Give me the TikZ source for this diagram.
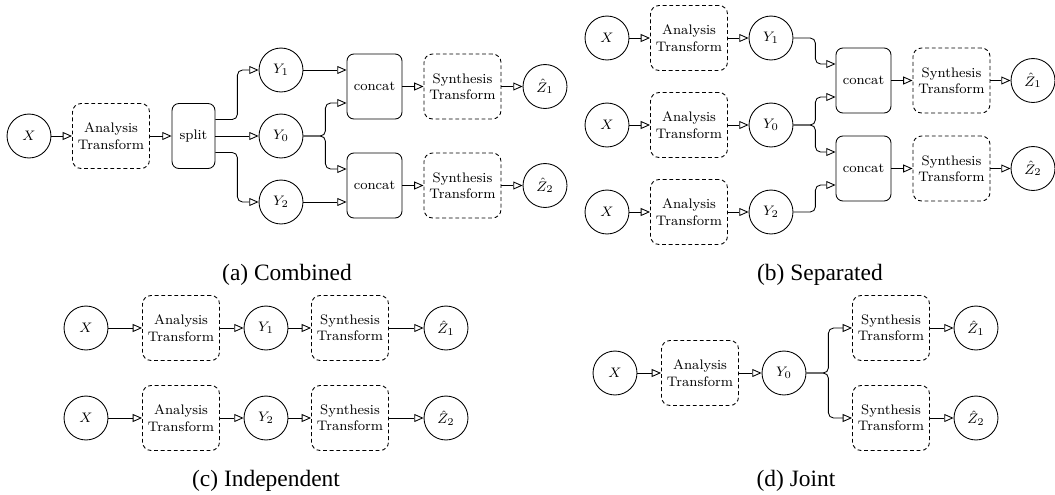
\documentclass[tikz,border=0pt]{standalone}
\usepackage{amsmath}
\usepackage{amssymb}
\usepackage{fontspec}
\usepackage{tikz}
\usetikzlibrary{arrows.meta}
\newfontfamily\capfont{Liberation Serif}

\begin{document}
\begin{tikzpicture}[x=0.58pt, y=-0.58pt, font=\footnotesize, line width=0.5pt,
    >={Triangle[open,length=5.4pt,width=4.6pt]},
    var/.style={draw, circle, minimum size=25.5pt, inner sep=0pt},
    trans/.style={draw, dash pattern=on 2.2pt off 1.6pt, rounded corners=5pt, align=center,
      minimum width=44.7pt, minimum height=37.7pt, inner sep=1pt},
    op/.style={draw, rounded corners=4pt, minimum width=31.9pt, minimum height=37.7pt, inner sep=2pt},
    captext/.style={font=\capfont\fontsize{13.6}{16}\selectfont},
    branch/.style={rounded corners=3pt}]

      \useasboundingbox (0, 0) rectangle (1055, 495);

      % (a) combined
      \node[var] (xa) at (29, 136) {$X$};
      \node[trans] (aa) at (111, 136) {Analysis\\Transform};
      \node[op, minimum width=24.9pt] (sp) at (193.5, 136) {split};
      \node[var] (y1a) at (281, 70) {$Y_1$};
      \node[var] (y0a) at (281, 136) {$Y_0$};
      \node[var] (y2a) at (281, 202) {$Y_2$};
      \node[op] (c1a) at (374.5, 86.5) {concat};
      \node[op] (c2a) at (374.5, 185.5) {concat};
      \node[trans] (s1a) at (462.5, 86.5) {Synthesis\\Transform};
      \node[trans] (s2a) at (462.5, 185.5) {Synthesis\\Transform};
      \node[var] (z1a) at (545, 86.5) {$\hat{Z}_1$};
      \node[var] (z2a) at (545, 185.5) {$\hat{Z}_2$};
      \node[captext] (capa) at (287, 275) {(a) Combined};

      \path[->]
      (xa) edge (aa)
      (aa) edge (sp)
      (sp) edge (y0a)
      (y1a) edge (y1a -| c1a.west)
      (y2a) edge (y2a -| c2a.west)
      (c1a) edge (s1a)
      (c2a) edge (s2a)
      (s1a) edge (z1a)
      (s2a) edge (z2a);

      \draw[->, branch] ([yshift=9.57pt]sp.east) -- ++(22, 0) |- (y1a);
      \draw[->, branch] ([yshift=-9.57pt]sp.east) -- ++(22, 0) |- (y2a);
      \draw[->, branch] (y0a.east) -- ++(22, 0) |- ([yshift=-9.57pt]c1a.west);
      \draw[->, branch] (y0a.east) -- ++(22, 0) |- ([yshift=9.57pt]c2a.west);

      % (b) separated
      \node[var] (x1b) at (607, 38) {$X$};
      \node[var] (x0b) at (607, 125) {$X$};
      \node[var] (x2b) at (607, 212) {$X$};
      \node[trans] (a1b) at (689, 38) {Analysis\\Transform};
      \node[trans] (a0b) at (689, 125) {Analysis\\Transform};
      \node[trans] (a2b) at (689, 212) {Analysis\\Transform};
      \node[var] (y1b) at (771, 38) {$Y_1$};
      \node[var] (y0b) at (771, 125) {$Y_0$};
      \node[var] (y2b) at (771, 212) {$Y_2$};
      \node[op] (c1b) at (863.5, 80.5) {concat};
      \node[op] (c2b) at (863.5, 168.5) {concat};
      \node[trans] (s1b) at (951.5, 80.5) {Synthesis\\Transform};
      \node[trans] (s2b) at (951.5, 168.5) {Synthesis\\Transform};
      \node[var] (z1b) at (1033, 80.5) {$\hat{Z}_1$};
      \node[var] (z2b) at (1033, 168.5) {$\hat{Z}_2$};
      \node[captext] (capb) at (820, 275) {(b) Separated};

      \path[->]
      (x1b) edge (a1b)
      (x0b) edge (a0b)
      (x2b) edge (a2b)
      (a1b) edge (y1b)
      (a0b) edge (y0b)
      (a2b) edge (y2b)
      (c1b) edge (s1b)
      (c2b) edge (s2b)
      (s1b) edge (z1b)
      (s2b) edge (z2b);

      \draw[->, branch] (y1b.east) -- ++(22, 0) |- ([yshift=9.57pt]c1b.west);
      \draw[->, branch] (y0b.east) -- ++(22, 0) |- ([yshift=-9.57pt]c1b.west);
      \draw[->, branch] (y0b.east) -- ++(22, 0) |- ([yshift=9.57pt]c2b.west);
      \draw[->, branch] (y2b.east) -- ++(22, 0) |- ([yshift=-9.57pt]c2b.west);

      % (c) independent
      \node[var] (x1c) at (86, 328) {$X$};
      \node[trans] (a1c) at (181, 328) {Analysis\\Transform};
      \node[var] (y1c) at (266, 328) {$Y_1$};
      \node[trans] (s1c) at (350, 328) {Synthesis\\Transform};
      \node[var] (z1c) at (446, 328) {$\hat{Z}_1$};
      \node[var] (x2c) at (86, 418) {$X$};
      \node[trans] (a2c) at (181, 418) {Analysis\\Transform};
      \node[var] (y2c) at (266, 418) {$Y_2$};
      \node[trans] (s2c) at (350, 418) {Synthesis\\Transform};
      \node[var] (z2c) at (446, 418) {$\hat{Z}_2$};
      \node[captext] (capc) at (266, 481) {(c) Independent};

      \path[->]
      (x1c) edge (a1c)
      (a1c) edge (y1c)
      (y1c) edge (s1c)
      (s1c) edge (z1c)
      (x2c) edge (a2c)
      (a2c) edge (y2c)
      (y2c) edge (s2c)
      (s2c) edge (z2c);

      % (d) joint
      \node[var] (xd) at (615, 373) {$X$};
      \node[trans] (ad) at (700, 373) {Analysis\\Transform};
      \node[var] (y0d) at (784, 373) {$Y_0$};
      \node[trans] (s1d) at (891, 328) {Synthesis\\Transform};
      \node[trans] (s2d) at (891, 418) {Synthesis\\Transform};
      \node[var] (z1d) at (976, 328) {$\hat{Z}_1$};
      \node[var] (z2d) at (976, 418) {$\hat{Z}_2$};
      \node[captext] (capd) at (796, 481) {(d) Joint};

      \path[->]
      (xd) edge (ad)
      (ad) edge (y0d)
      (s1d) edge (z1d)
      (s2d) edge (z2d);

      \draw[->, branch] (y0d.east) -- ++(22, 0) |- (s1d);
      \draw[->, branch] (y0d.east) -- ++(22, 0) |- (s2d);
    \end{tikzpicture}
\end{document}
